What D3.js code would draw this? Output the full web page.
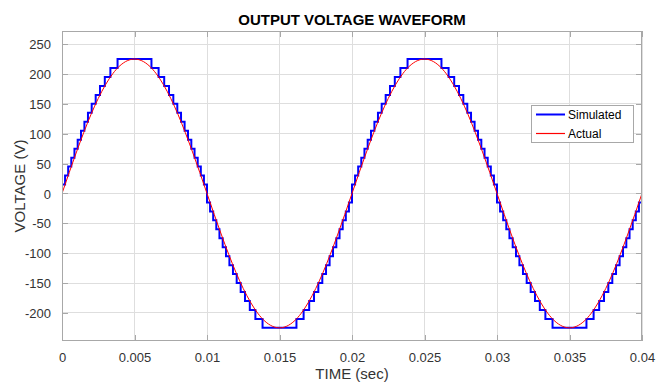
<!DOCTYPE html>
<html><head><meta charset="utf-8">
<script src="https://cdn.jsdelivr.net/npm/d3@7"></script>
<style>body{margin:0;background:#fff;} svg{display:block;}</style>
</head><body>
<svg id="chart" width="670" height="382"></svg>
<script>
// ---- data ----
const xTicks = [0, 0.005, 0.01, 0.015, 0.02, 0.025, 0.03, 0.035, 0.04];
const xTickLabels = ["0", "0.005", "0.01", "0.015", "0.02", "0.025", "0.03", "0.035", "0.04"];
const yTicks = [-200, -150, -100, -50, 0, 50, 100, 150, 200, 250];
const yTickLabels = ["-200", "-150", "-100", "-50", "0", "50", "100", "150", "200", "250"];

// Actual (sine) read every 0.5 ms
const actualT = [0,0.0005,0.001,0.0015,0.002,0.0025,0.003,0.0035,0.004,0.0045,0.005,0.0055,0.006,0.0065,0.007,0.0075,0.008,0.0085,0.009,0.0095,
  0.01,0.0105,0.011,0.0115,0.012,0.0125,0.013,0.0135,0.014,0.0145,0.015,0.0155,0.016,0.0165,0.017,0.0175,0.018,0.0185,0.019,0.0195,
  0.02,0.0205,0.021,0.0215,0.022,0.0225,0.023,0.0235,0.024,0.0245,0.025,0.0255,0.026,0.0265,0.027,0.0275,0.028,0.0285,0.029,0.0295,
  0.03,0.0305,0.031,0.0315,0.032,0.0325,0.033,0.0335,0.034,0.0345,0.035,0.0355,0.036,0.0365,0.037,0.0375,0.038,0.0385,0.039,0.0395,0.04];
const actualV = [0,35.2,69.5,102.1,132.3,159.1,182.0,200.5,214.0,222.2,225,222.2,214.0,200.5,182.0,159.1,132.3,102.1,69.5,35.2,
  0,-35.2,-69.5,-102.1,-132.3,-159.1,-182.0,-200.5,-214.0,-222.2,-225,-222.2,-214.0,-200.5,-182.0,-159.1,-132.3,-102.1,-69.5,-35.2,
  0,35.2,69.5,102.1,132.3,159.1,182.0,200.5,214.0,222.2,225,222.2,214.0,200.5,182.0,159.1,132.3,102.1,69.5,35.2,
  0,-35.2,-69.5,-102.1,-132.3,-159.1,-182.0,-200.5,-214.0,-222.2,-225,-222.2,-214.0,-200.5,-182.0,-159.1,-132.3,-102.1,-69.5,-35.2,0];

// Simulated staircase: switching instants (ms) and the level held after each
const simT_ms = [0,0,0,
  0.212,0.426,0.641,0.859,1.082,1.310,1.545,1.791,2.048,2.323,2.620,2.952,3.337,3.831,
  6.169,6.663,7.048,7.380,7.677,7.952,8.209,8.455,8.690,8.918,9.141,9.359,9.574,9.788,
  10,10.212,10.426,10.641,10.859,11.082,11.310,11.545,11.791,12.048,12.323,12.620,12.952,13.337,13.831,
  16.169,16.663,17.048,17.380,17.677,17.952,18.209,18.455,18.690,18.918,19.141,19.359,19.574,19.788,
  20,20.212,20.426,20.641,20.859,21.082,21.310,21.545,21.791,22.048,22.323,22.620,22.952,23.337,23.831,
  26.169,26.663,27.048,27.380,27.677,27.952,28.209,28.455,28.690,28.918,29.141,29.359,29.574,29.788,
  30,30.212,30.426,30.641,30.859,31.082,31.310,31.545,31.791,32.048,32.323,32.620,32.952,33.337,33.831,
  36.169,36.663,37.048,37.380,37.677,37.952,38.209,38.455,38.690,38.918,39.141,39.359,39.574,39.788,40];
const simV = [60,0,15,
  30,45,60,75,90,105,120,135,150,165,180,195,210,225,
  210,195,180,165,150,135,120,105,90,75,60,45,30,15,
  -15,-30,-45,-60,-75,-90,-105,-120,-135,-150,-165,-180,-195,-210,-225,
  -210,-195,-180,-165,-150,-135,-120,-105,-90,-75,-60,-45,-30,-15,
  15,30,45,60,75,90,105,120,135,150,165,180,195,210,225,
  210,195,180,165,150,135,120,105,90,75,60,45,30,15,
  -15,-30,-45,-60,-75,-90,-105,-120,-135,-150,-165,-180,-195,-210,-225,
  -210,-195,-180,-165,-150,-135,-120,-105,-90,-75,-60,-45,-30,-15,0];

const legendItems = ["Simulated", "Actual"];
const seriesColors = ["#0000ff", "#ff0000"];

// ---- layout ----
const svg = d3.select("#chart");
const L = 62, R = 642, T = 31, B = 341;
const x = d3.scaleLinear().domain([0, 0.04]).range([L, R]);
const y = d3.scaleLinear().domain([-247, 272]).range([B, T]);
const font = "'Liberation Sans', Arial, sans-serif";

// grid
const grid = svg.append("g");
grid.selectAll("line.vx").data(xTicks).join("line")
  .attr("x1", d => x(d)).attr("x2", d => x(d)).attr("y1", T).attr("y2", B)
  .attr("stroke", "#dedede").attr("stroke-width", 1).attr("shape-rendering", "crispEdges");
grid.selectAll("line.hy").data(yTicks).join("line")
  .attr("x1", L).attr("x2", R).attr("y1", d => y(d)).attr("y2", d => y(d))
  .attr("stroke", "#dedede").attr("stroke-width", 1).attr("shape-rendering", "crispEdges");

// axes using d3 axis
const tickColor = "#333333";
const xAxis = d3.axisBottom(x).tickValues(xTicks).tickFormat((d, i) => xTickLabels[i]).tickSizeInner(-6).tickSizeOuter(0).tickPadding(12);
const yAxis = d3.axisLeft(y).tickValues(yTicks).tickFormat((d, i) => yTickLabels[i]).tickSizeInner(-6).tickSizeOuter(0).tickPadding(11);
const gx = svg.append("g").attr("transform", `translate(0,${B})`).call(xAxis);
const gy = svg.append("g").attr("transform", `translate(${L},0)`).call(yAxis);
const gx2 = svg.append("g").attr("transform", `translate(0,${T})`).call(d3.axisTop(x).tickValues(xTicks).tickFormat("").tickSizeInner(-6).tickSizeOuter(0));
const gy2 = svg.append("g").attr("transform", `translate(${R},0)`).call(d3.axisRight(y).tickValues(yTicks).tickFormat("").tickSizeInner(-6).tickSizeOuter(0));
[gx, gy, gx2, gy2].forEach(g => {
  g.select(".domain").remove();
  g.selectAll(".tick line").attr("stroke", "#a8a8a8").attr("shape-rendering", "crispEdges");
  g.selectAll(".tick text").attr("fill", tickColor).style("font-family", font).style("font-size", "13px");
});
gy.selectAll(".tick text").attr("dy", "0.35em");

// clip
svg.append("clipPath").attr("id", "clip").append("rect").attr("x", L).attr("y", T).attr("width", R - L).attr("height", B - T);

// series
const simData = simT_ms.map((t, i) => [t / 1000, simV[i]]);
const actData = actualT.map((t, i) => [t, actualV[i]]);
const plot = svg.append("g").attr("clip-path", "url(#clip)");
plot.append("path").datum(simData)
  .attr("d", d3.line().x(d => x(d[0])).y(d => y(d[1])).curve(d3.curveStepAfter))
  .attr("fill", "none").attr("stroke", seriesColors[0]).attr("stroke-width", 2);
plot.append("path").datum(actData)
  .attr("d", d3.line().x(d => x(d[0])).y(d => y(d[1])).curve(d3.curveNatural))
  .attr("fill", "none").attr("stroke", seriesColors[1]).attr("stroke-width", 1);

// box
svg.append("rect").attr("x", L + 0.5).attr("y", T + 0.5).attr("width", R - L - 1).attr("height", B - T - 1)
  .attr("fill", "none").attr("stroke", "#a8a8a8").attr("stroke-width", 1);

// title & labels
svg.append("text").attr("x", (L + R) / 2).attr("y", 25).attr("text-anchor", "middle")
  .style("font-family", font).style("font-size", "15px").style("font-weight", "bold").attr("fill", "#000")
  .text("OUTPUT VOLTAGE WAVEFORM");
svg.append("text").attr("x", (L + R) / 2).attr("y", 379).attr("text-anchor", "middle")
  .style("font-family", font).style("font-size", "15px").attr("fill", tickColor)
  .text("TIME (sec)");
svg.append("text").attr("transform", `translate(25,${(T + B) / 2}) rotate(-90)`).attr("text-anchor", "middle")
  .style("font-family", font).style("font-size", "15px").attr("fill", tickColor)
  .text("VOLTAGE (V)");

// legend
const lg = svg.append("g");
lg.append("rect").attr("x", 531.5).attr("y", 105.5).attr("width", 102).attr("height", 37)
  .attr("fill", "#fff").attr("stroke", "#a8a8a8");
legendItems.forEach((name, i) => {
  const yy = 114.5 + i * 19;
  lg.append("path").attr("d", `M536,${yy}H565`)
    .attr("fill", "none").attr("stroke", seriesColors[i]).attr("stroke-width", i === 0 ? 2 : 1.2);
  lg.append("text").attr("x", 568).attr("y", yy).attr("dy", "0.35em")
    .style("font-family", font).style("font-size", "12px").attr("fill", "#000").text(name);
});
</script>
</body></html>
